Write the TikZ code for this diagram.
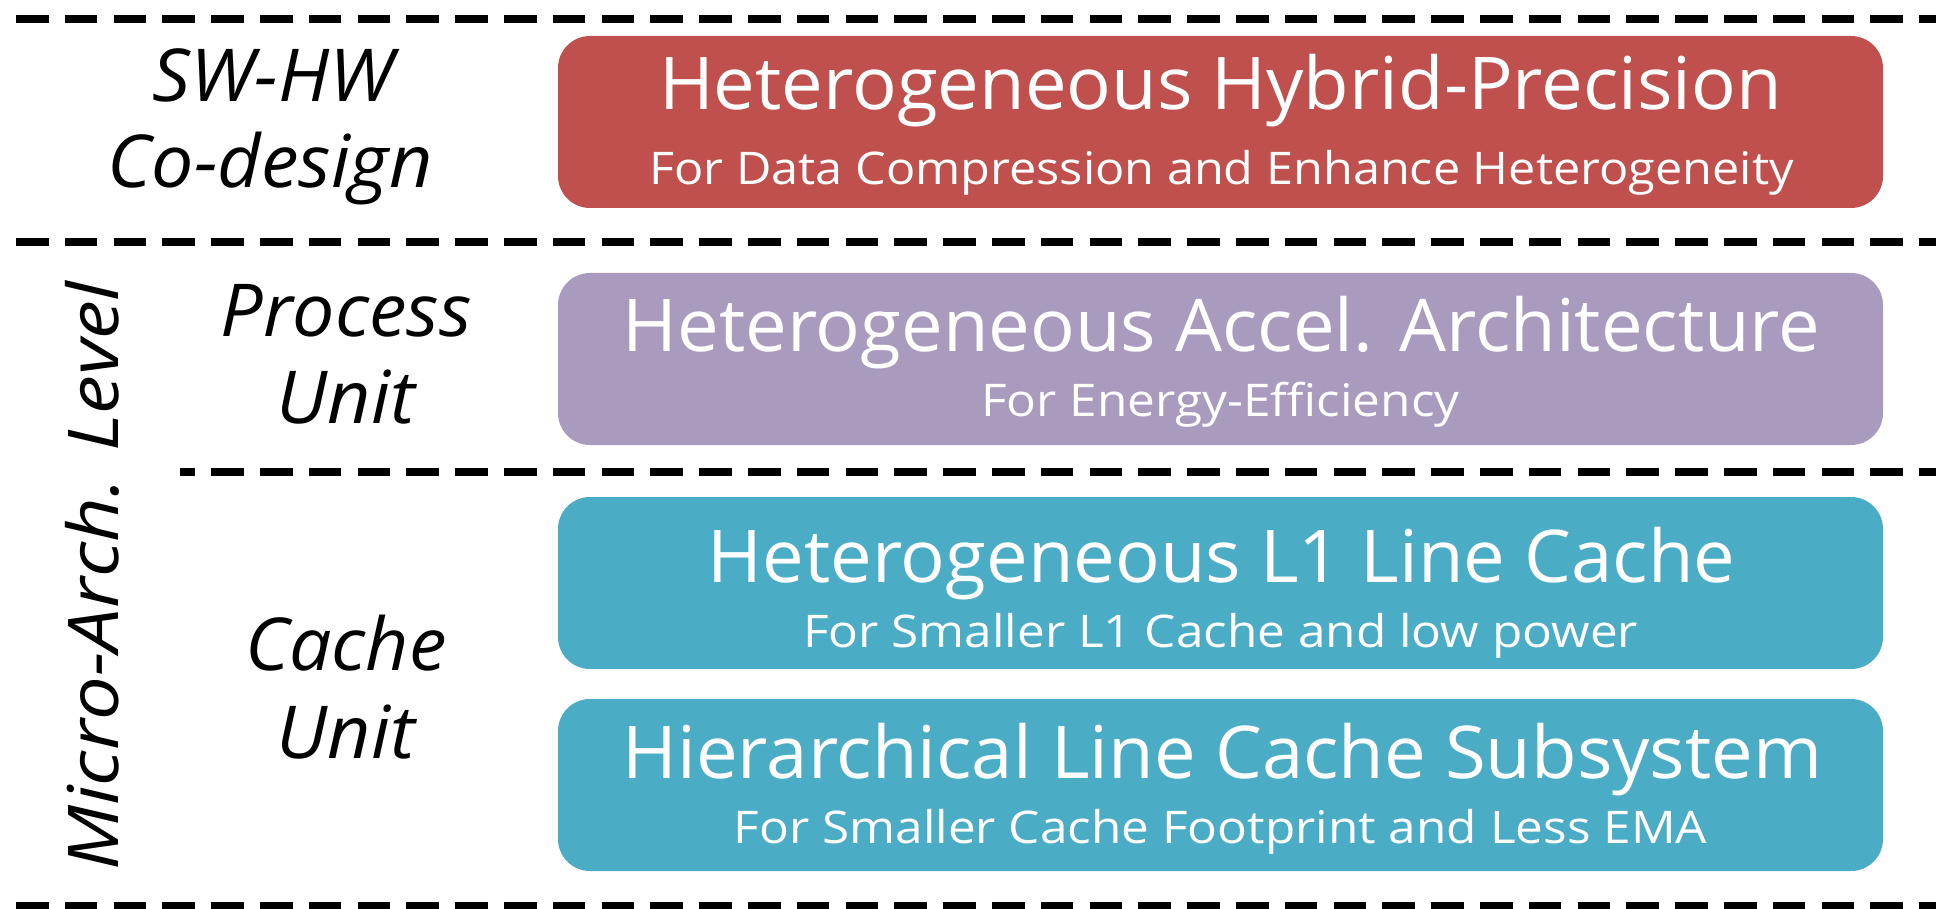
\documentclass[tikz,border=0pt]{standalone}
\usepackage{fontspec}
\setmainfont{Open Sans}
\newfontfamily\headfont[FakeStretch=1.02]{Open Sans}
\newfontfamily\subfont[FakeStretch=1.10]{Open Sans}
\newfontfamily\subfontnarrow[FakeStretch=1.08]{Open Sans}
\newfontfamily\lblfont[FakeStretch=1.03]{Open Sans}
\newfontfamily\sidefont[FakeStretch=1.11]{Open Sans}
\definecolor{swred}{HTML}{C0504D}
\definecolor{archpurple}{HTML}{A99BBD}
\definecolor{cacheblue}{HTML}{4BACC6}
\tikzset{
  sep/.style={line width=8pt, dash pattern=on 32.5pt off 16.3pt},
  panel/.style={rounded corners=32pt, minimum width=1325pt, minimum height=172pt, inner sep=0pt},
  title/.style={anchor=base, text=white, inner sep=0pt, font=\headfont\fontsize{72.8}{80}\selectfont},
  subtitle/.style={anchor=base, text=white, inner sep=0pt, font=\subfont\fontsize{45}{50}\selectfont},
  level/.style={anchor=base, inner sep=0pt, font=\lblfont\itshape\fontsize{73}{80}\selectfont},
}
\begin{document}
\begin{tikzpicture}[x=1pt, y=-1pt]
\useasboundingbox (0,0) rectangle (1936,909);

% layer separators
\coordinate (s1a) at (16,19);   \coordinate (s1b) at (1936,19);
\coordinate (s2a) at (16,242);  \coordinate (s2b) at (1936,242);
\coordinate (s3a) at (180,472); \coordinate (s3b) at (1936,472);
\coordinate (s4a) at (16,906);  \coordinate (s4b) at (1936,906);
\draw[sep] (s1a) -- (s1b);
\draw[sep] (s2a) -- (s2b);
\draw[sep, dash phase=17.6pt] (s3a) -- (s3b);
\draw[sep] (s4a) -- (s4b);

% panels
\node[panel, fill=swred]      (hhp)  at (1220.5,122) {};
\node[panel, fill=archpurple] (hacc) at (1220.5,359) {};
\node[panel, fill=cacheblue]  (hl1)  at (1220.5,583) {};
\node[panel, fill=cacheblue]  (hlc)  at (1220.5,785) {};

\node[title]    (hhpT)  at (1220.5,110) {Heterogeneous Hybrid-Precision};
\node[subtitle, font=\subfontnarrow\fontsize{45}{50}\selectfont] (hhpS) at (1221.5,185) {For Data Compression and Enhance Heterogeneity};
\node[title]    (haccT) at (1221.5,352) {Heterogeneous Accel. Architecture};
\node[subtitle] (haccS) at (1220.5,416) {For Energy-Efficiency};
\node[title]    (hl1T)  at (1221.5,582) {Heterogeneous L1 Line Cache};
\node[subtitle] (hl1S)  at (1220.5,647) {For Smaller L1 Cache and low power};
\node[title]    (hlcT)  at (1222.5,778) {Hierarchical Line Cache Subsystem};
\node[subtitle] (hlcS)  at (1220.5,843) {For Smaller Cache Footprint and Less EMA};

% level labels
\node[level] (sw1) at (273,102) {SW-HW};
\node[level] (sw2) at (270,188) {Co-design};
\node[level] (pu1) at (346,337) {Process};
\node[level] (pu2) at (346,423) {Unit};
\node[level] (cu1) at (346,670) {Cache};
\node[level] (cu2) at (346,758) {Unit};
\node[level, rotate=90, font=\sidefont\itshape\fontsize{70}{76}\selectfont] (micro) at (118,576) {Micro-Arch. Level};
\end{tikzpicture}
\end{document}
